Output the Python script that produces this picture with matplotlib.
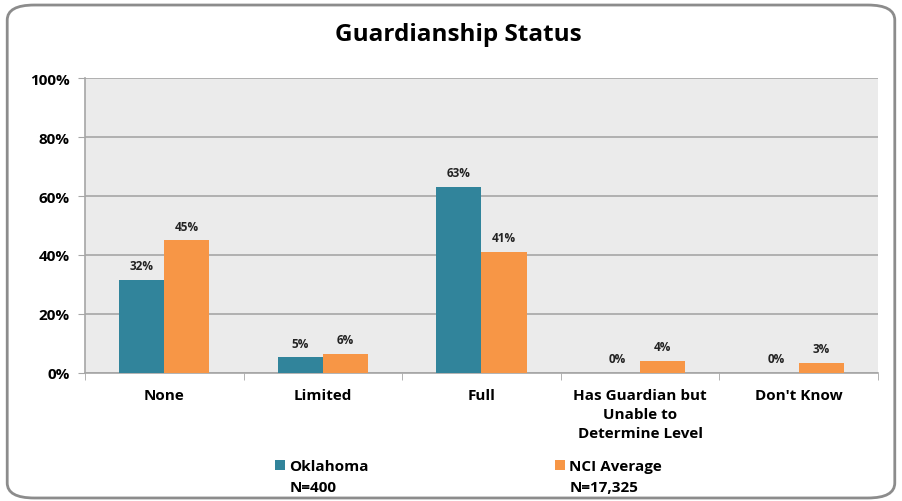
import numpy as np
import matplotlib.pyplot as plt
from matplotlib.patches import FancyBboxPatch, Rectangle

categories = ["None", "Limited", "Full", "Has Guardian but\nUnable to\nDetermine Level", "Don't Know"]
oklahoma = [31.5, 5.3, 63.2, 0.0, 0.0]
nci_avg = [45.0, 6.4, 41.0, 4.2, 3.4]
series_names = ["Oklahoma", "NCI Average"]
series_n = ["N=400", "N=17,325"]
yticks = [0, 20, 40, 60, 80, 100]

teal = "#31849b"
orange = "#f79646"
plt.rcParams['font.family'] = ['Open Sans', 'DejaVu Sans']
plt.rcParams['font.weight'] = 'bold'

fig = plt.figure(figsize=(9.02, 5.02), dpi=100)
fig.patch.set_facecolor("white")

# rounded outer border
border = FancyBboxPatch((0.008, 0.006), 0.984, 0.982, boxstyle="round,pad=0,rounding_size=0.03",
                        transform=fig.transFigure, facecolor="none", edgecolor="#8c8c8c", linewidth=2)
fig.add_artist(border)

ax = fig.add_axes([0.0942, 0.255, 0.8792, 0.5876])
ax.set_facecolor("#ebebeb")

x = np.arange(len(categories))
w = 0.284
b1 = ax.bar(x - w / 2, oklahoma, w, color=teal, zorder=3)
b2 = ax.bar(x + w / 2, nci_avg, w, color=orange, zorder=3)

for bars, vals in [(b1, oklahoma), (b2, nci_avg)]:
    for rect, v in zip(bars, vals):
        ax.annotate(f"{round(v):d}%", (rect.get_x() + rect.get_width() / 2, v),
                    xytext=(0, 5.5), textcoords="offset points", ha="center", va="bottom",
                    fontsize=8.5, fontweight="bold", color="#222222")

ax.set_xlim(-0.5, len(categories) - 0.5)
ax.set_ylim(0, 100)
ax.set_yticks(yticks)
ax.set_yticklabels([f"{t}%" for t in yticks], fontsize=11, fontweight="bold")
ax.yaxis.grid(True, color="#a6a6a6", linewidth=1.2, zorder=0)
ax.tick_params(axis="y", length=5, color="#a6a6a6", pad=6)

ax.set_xticks(x)
ax.set_xticklabels(categories, fontsize=11, fontweight="bold", linespacing=1.45)
ax.tick_params(axis="x", length=0, pad=11)
ax.set_xticks(np.arange(-0.5, len(categories), 1), minor=True)
ax.tick_params(axis="x", which="minor", length=5, color="#a6a6a6")

for s in ["top", "right"]:
    ax.spines[s].set_visible(False)
for s in ["left", "bottom"]:
    ax.spines[s].set_color("#a6a6a6")
    ax.spines[s].set_linewidth(1.2)

fig.text(0.508, 0.93, "Guardianship Status", ha="center", va="center", fontsize=17.5, fontweight="bold")

# legend
for xs, col, name, n in [(0.305, teal, series_names[0], series_n[0]),
                         (0.615, orange, series_names[1], series_n[1])]:
    fig.add_artist(Rectangle((xs, 0.061), 0.011, 0.02, transform=fig.transFigure,
                             facecolor=col, edgecolor="none"))
    fig.text(xs + 0.016, 0.069, name, ha="left", va="center", fontsize=11, fontweight="bold")
    fig.text(xs + 0.016, 0.027, n, ha="left", va="center", fontsize=11, fontweight="bold")

fig.savefig("out.png", dpi=100)
